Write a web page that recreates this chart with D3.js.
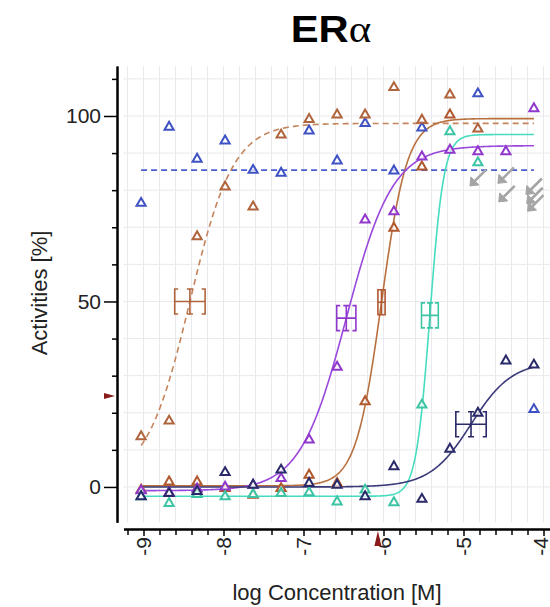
<!DOCTYPE html>
<html><head><meta charset="utf-8">
<script src="https://cdn.jsdelivr.net/npm/d3@7"></script>
<style>
body{margin:0;background:#fff;}
svg{display:block;font-family:"Liberation Sans",Arial,sans-serif;}
</style>
</head><body>
<svg id="c" width="550" height="607"></svg>
<script>
// ---------- DATA ----------
const concLog = [-9.03, -8.68, -8.33, -7.98, -7.63, -7.28, -6.93, -6.58, -6.23, -5.87, -5.52, -5.17, -4.82, -4.47, -4.12];

const blueValues        = [76.5, 97, 88.4, 93.3, 85.4, 84.6, 96, 87.9, 98, 85.2, 96.8, null, 106, null, 20.9];
const dashedBrownValues = [13.6, 17.8, 67.5, 80.9, 75.5, 94.9, 99.1, 100.3, 100.3, 107.7, 98.9, 105.7, 96.5, null, null];
const solidBrownValues  = [-0.8, 1.4, 1.4, -0.4, -2.2, -0.4, 3.2, 1.0, 23, 69.8, 86.3, 100.3, null, null, null];
const purpleValues      = [-1, -1.5, -0.5, 0, 0.5, 2.3, 12.7, 32.3, 72, 74.2, 89, 90.8, 90.4, 90.4, 102];
const turquoiseValues   = [-2.6, -4.4, -2, -2.6, -2, -1.7, -1.5, -4.0, -0.8, -4.2, 22.1, 95.8, 87.4, null, null];
const navyValues        = [-2.6, -1.7, -1.2, 3.9, 0.5, 4.6, 1.0, 0.5, -2.6, 5.5, -3.3, 10.2, 19.9, 34, 32.9];

const seriesNames  = ["blue", "dashedBrown", "solidBrown", "purple", "turquoise", "navy"];
const seriesValues = [blueValues, dashedBrownValues, solidBrownValues, purpleValues, turquoiseValues, navyValues];
const pointColors  = ["#3f52c4", "#b0643c", "#b0582e", "#9138cc", "#3cc4a4", "#2a2a6a"];
const lineColors   = ["#4a5ed0", "#c4845c", "#b8703f", "#9a48dc", "#46dcc0", "#3a3a78"];
const lineDashed   = [true, true, false, false, false, false];

// fitted curve parameters (bottom, top, logEC50, hill, CI half-width in log units)
const fitBottom = [85.4, 2, 0.3, -1, -2.5, 0];
const fitTop    = [85.4, 98, 99.3, 92, 95, 33.8];
const fitEC50   = [null, -8.42, -6.025, -6.465, -5.42, -4.906];
const fitHill   = [0, 1.6, 2.7, 1.5, 5, 1.7];
const fitCI     = [0, 0.19, 0.045, 0.12, 0.105, 0.19];

// flagged (grey arrow) points
const flaggedLog   = [-4.82, -4.47, -4.46, -4.12, -4.11, -4.10];
const flaggedValue = [83.3, 84.0, 79.0, 81.0, 78.5, 76.5];

// threshold markers
const markerXLog   = -6.07;
const markerYValue = 24.5;

const xMajorTicks = [-9, -8, -7, -6, -5, -4];
const yMajorTicks = [0, 50, 100];
const xTickLabels = ["-9", "-8", "-7", "-6", "-5", "-4"];
const yTickLabels = ["0", "50", "100"];

// ---------- SCALES ----------
const svg = d3.select("#c");
const x = d3.scaleLinear().domain([-9.25, -3.9]).range([123.5, 551.5]);
const y = d3.scaleLinear().domain([-9.5, 113.5]).range([522.2, 65.9]);

const gridX = d3.range(-46, -19).map(k => k / 5);
const gridY = d3.range(0, 12).map(k => k * 10);

// grid
const grid = svg.append("g").attr("stroke", "#e9e9ee").attr("stroke-width", 1);
grid.selectAll("line.gx").data(gridX).join("line")
  .attr("x1", d => x(d)).attr("x2", d => x(d))
  .attr("y1", y(113.5)).attr("y2", y(-9.5));
grid.selectAll("line.gy").data(gridY).join("line")
  .attr("x1", 123.5).attr("x2", 550)
  .attr("y1", d => y(d)).attr("y2", d => y(d));

// ---------- AXES ----------
const xMinor = gridX.filter(d => !xMajorTicks.some(m => Math.abs(m - d) < 1e-6));
const xAxisG = svg.append("g").attr("transform", "translate(0,529)");
xAxisG.call(d3.axisBottom(x).tickValues(xMinor).tickSize(6).tickSizeOuter(0).tickFormat(""));
xAxisG.append("g").call(d3.axisBottom(x).tickValues(xMajorTicks).tickSize(7).tickSizeOuter(0).tickFormat(""));
xAxisG.selectAll(".domain").attr("stroke", "#000").attr("stroke-width", 2);
xAxisG.selectAll(".tick line").attr("stroke", "#000").attr("stroke-width", 1.5);
svg.append("g").selectAll("text").data(xMajorTicks).join("text")
  .attr("transform", d => `translate(${Math.min(x(d), 540)},537) rotate(-90)`)
  .attr("text-anchor", "end").attr("dominant-baseline", "central")
  .attr("font-size", 21).attr("fill", "#222")
  .text((d, i) => xTickLabels[i]);

const yMinor = d3.range(1, 12).map(k => k * 10).filter(d => !yMajorTicks.includes(d));
const yAxisG = svg.append("g").attr("transform", "translate(117,0)");
yAxisG.call(d3.axisLeft(y).tickValues(yMinor).tickSize(5).tickSizeOuter(0).tickFormat(""));
yAxisG.append("g").call(d3.axisLeft(y).tickValues(yMajorTicks).tickSize(13).tickSizeOuter(0).tickFormat(""));
yAxisG.selectAll(".domain").attr("stroke", "#000").attr("stroke-width", 2);
yAxisG.selectAll(".tick line").attr("stroke", "#000").attr("stroke-width", 1.5);
svg.append("g").selectAll("text").data(yMajorTicks).join("text")
  .attr("x", 101).attr("y", d => y(d))
  .attr("text-anchor", "end").attr("dominant-baseline", "central")
  .attr("font-size", 21).attr("fill", "#222")
  .text((d, i) => yTickLabels[i]);

// axis titles
svg.append("text").attr("transform", "translate(47,293) rotate(-90)")
  .attr("text-anchor", "middle").attr("font-size", 22).attr("fill", "#222")
  .text("Activities [%]");
svg.append("text").attr("x", 337).attr("y", 600)
  .attr("text-anchor", "middle").attr("font-size", 22).attr("fill", "#222")
  .text("log Concentration [M]");

// title
const title = svg.append("text").attr("transform", "translate(331,42) scale(1.13,1)")
  .attr("text-anchor", "middle").attr("fill", "#000");
title.append("tspan").attr("font-size", 37).attr("font-weight", "bold").text("ER");
title.append("tspan").attr("font-size", 38).attr("font-family", "'Liberation Serif','DejaVu Serif',serif").text("α");

// ---------- CURVES ----------
function hill(i, lx) {
  if (fitEC50[i] === null) return fitBottom[i];
  return fitBottom[i] + (fitTop[i] - fitBottom[i]) / (1 + Math.pow(10, (fitEC50[i] - lx) * fitHill[i]));
}
const xs = d3.range(0, 494).map(k => concLog[0] + k * 0.01).filter(v => v <= concLog[concLog.length - 1] + 1e-9);
const line = d3.line().x(d => x(d[0])).y(d => y(d[1]));
seriesNames.forEach((name, i) => {
  svg.append("path")
    .datum(xs.map(lx => [lx, hill(i, lx)]))
    .attr("d", line)
    .attr("fill", "none")
    .attr("stroke", lineColors[i])
    .attr("stroke-width", 1.6)
    .attr("stroke-dasharray", lineDashed[i] ? "6,4" : null);
});

// EC50 markers
seriesNames.forEach((name, i) => {
  if (fitEC50[i] === null) return;
  const cx = x(fitEC50[i]);
  const cy = y((fitTop[i] + fitBottom[i]) / 2);
  const xl = x(fitEC50[i] - fitCI[i]), xr = x(fitEC50[i] + fitCI[i]);
  const h = 12.5, s = 3.5;
  const p = d3.path();
  p.moveTo(xl + s, cy - h); p.lineTo(xl, cy - h); p.lineTo(xl, cy + h); p.lineTo(xl + s, cy + h);
  p.moveTo(xr - s, cy - h); p.lineTo(xr, cy - h); p.lineTo(xr, cy + h); p.lineTo(xr - s, cy + h);
  p.moveTo(xl, cy); p.lineTo(xr, cy);
  p.moveTo(cx, cy - h); p.lineTo(cx, cy + h);
  p.moveTo(cx - 3, cy - h); p.lineTo(cx + 3, cy - h);
  p.moveTo(cx - 3, cy + h); p.lineTo(cx + 3, cy + h);
  svg.append("path").attr("d", p.toString())
    .attr("fill", "none").attr("stroke", pointColors[i]).attr("stroke-width", 1.6);
});

// ---------- POINTS ----------
const tri = d3.symbol().type(d3.symbolTriangle).size(36);
seriesNames.forEach((name, i) => {
  const pts = concLog.map((c, k) => [c, seriesValues[i][k]]).filter(d => d[1] !== null);
  svg.append("g").selectAll("path").data(pts).join("path")
    .attr("d", tri)
    .attr("transform", d => `translate(${x(d[0])},${y(d[1])})`)
    .attr("fill", "#fff").attr("fill-opacity", 0.7)
    .attr("stroke", pointColors[i]).attr("stroke-width", 2);
});

// flagged grey arrows
const arrows = svg.append("g").attr("stroke", "#a5a5a5").attr("fill", "#a5a5a5");
flaggedLog.forEach((lx, k) => {
  const cx = x(lx), cy = y(flaggedValue[k]);
  arrows.append("line")
    .attr("x1", cx + 8).attr("y1", cy - 8).attr("x2", cx - 4).attr("y2", cy + 4)
    .attr("stroke-width", 2.6);
  arrows.append("path")
    .attr("d", `M${cx - 8},${cy + 8} L${cx - 7},${cy - 1} L${cx + 1},${cy + 7} Z`)
    .attr("stroke-width", 1);
});

// threshold markers
svg.append("path")
  .attr("d", `M${x(markerXLog)},531 L${x(markerXLog) - 3.5},546 L${x(markerXLog) + 3.5},546 Z`)
  .attr("fill", "#8a1c1c");
svg.append("path")
  .attr("d", `M115,${y(markerYValue)} L104,${y(markerYValue) - 3} L104,${y(markerYValue) + 3} Z`)
  .attr("fill", "#8a1c1c");
</script>
</body></html>
